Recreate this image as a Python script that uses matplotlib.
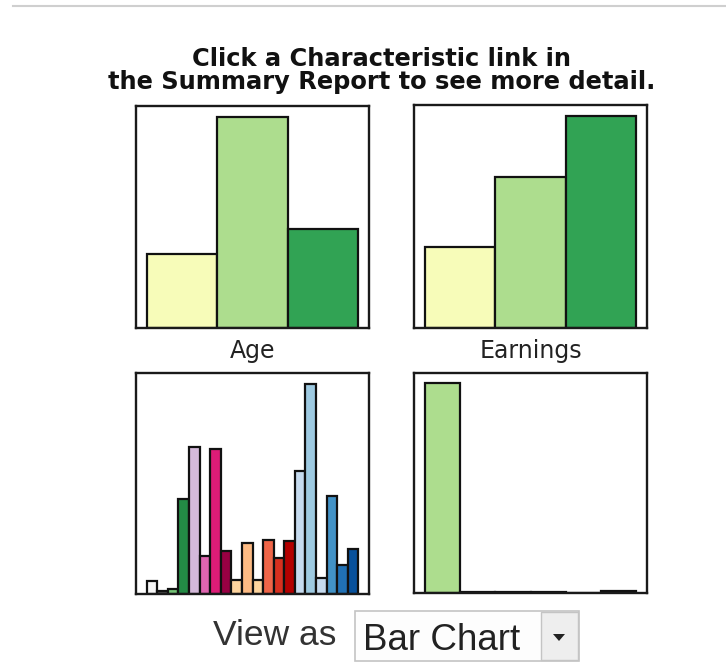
import matplotlib
matplotlib.use("Agg")
import matplotlib.pyplot as plt
from matplotlib.patches import Rectangle, Polygon

W, H = 726, 668

title_lines = ["Click a Characteristic link in", "the Summary Report to see more detail."]

age_labels = ["Young", "Middle", "Old"]
age_values = [35, 100, 47]
age_colors = ["#f7fcb9", "#addd8e", "#31a354"]

earn_labels = ["Low", "Mid", "High"]
earn_values = [38, 71, 100]
earn_colors = ["#f7fcb9", "#addd8e", "#31a354"]

detail_values = [38, 8, 15, 288, 445, 115, 438, 131, 41, 155, 41, 163, 108, 160,
                 370, 635, 48, 296, 88, 136]
detail_colors = ["#f7f7f7", "#525252", "#74c476", "#238b45",
                 "#d4b9da", "#df65b0", "#dd1c77", "#980043",
                 "#fdd49e", "#fdbb84", "#fdd49e", "#ef6548", "#d7301f", "#b30000",
                 "#c6dbef", "#9ecae1", "#c6dbef", "#4292c6", "#2171b5", "#08519c"]

earn_detail_values = [100, 0.6, 0.3, 0.3, 0.2, 1.0]
earn_detail_colors = ["#addd8e", "#addd8e", "#addd8e", "#addd8e", "#addd8e", "#addd8e"]

subplot_titles = ["Age", "Earnings"]
control_label = "View as"
control_value = "Bar Chart"

fig = plt.figure(figsize=(W / 100, H / 100), dpi=100)
fig.patch.set_facecolor("white")


def px_axes(x0, y0, x1, y1):
    return fig.add_axes([x0 / W, 1 - y1 / H, (x1 - x0) / W, (y1 - y0) / H])


def style(ax):
    ax.set_xticks([])
    ax.set_yticks([])
    for s in ax.spines.values():
        s.set_linewidth(1.7)
        s.set_color("#1a1a1a")


def bars(ax, values, colors):
    ax.bar(range(len(values)), values, width=1.0, color=colors,
           edgecolor="#111111", linewidth=1.6)
    style(ax)


ax1 = px_axes(136, 106, 369, 328)
bars(ax1, age_values, age_colors)
ax2 = px_axes(414, 105, 647, 328)
bars(ax2, earn_values, earn_colors)
ax3 = px_axes(136, 373, 369, 594)
bars(ax3, detail_values, detail_colors)
ax4 = px_axes(414, 373, 647, 593)
bars(ax4, earn_detail_values, earn_detail_colors)

# background frame line
fig.add_artist(plt.Line2D([13 / W, 1], [1 - 6 / H, 1 - 6 / H], color="#cfcfcf", linewidth=1.5))

# title
fig.text(382 / W, 1 - 66 / H, title_lines[0], ha="center", va="baseline",
         fontsize=17.4, fontweight="bold", family="DejaVu Sans", color="#111111")
fig.text(382 / W, 1 - 89 / H, title_lines[1], ha="center", va="baseline",
         fontsize=17.4, fontweight="bold", family="DejaVu Sans", color="#111111")

# subplot labels
fig.text(252.5 / W, 1 - 358 / H, subplot_titles[0], ha="center", va="baseline",
         fontsize=17, family="DejaVu Sans", color="#222222")
fig.text(530.5 / W, 1 - 358 / H, subplot_titles[1], ha="center", va="baseline",
         fontsize=17, family="DejaVu Sans", color="#222222")

# control
fig.text(213 / W, 1 - 645 / H, control_label, ha="left", va="baseline",
         fontsize=25.5, family="Liberation Sans", color="#333333")
box = Rectangle((355 / W, 1 - 661 / H), (579 - 355) / W, (661 - 611) / H,
                transform=fig.transFigure, facecolor="#fdfdfd", edgecolor="#c4c4c4",
                linewidth=1.2)
fig.add_artist(box)
drop = Rectangle((541 / W, 1 - 660 / H), (578 - 541) / W, (660 - 612) / H,
                 transform=fig.transFigure, facecolor="#eeeeee", edgecolor="#c4c4c4",
                 linewidth=1.0)
fig.add_artist(drop)
fig.text(363 / W, 1 - 650 / H, control_value, ha="left", va="baseline",
         fontsize=26.5, family="Liberation Sans", color="#222222")
tri = Polygon([[553 / W, 1 - 634 / H], [565 / W, 1 - 634 / H], [559 / W, 1 - 641 / H]],
              closed=True, transform=fig.transFigure, facecolor="#222222", edgecolor="none")
fig.add_artist(tri)

fig.savefig("out.png", dpi=100)
